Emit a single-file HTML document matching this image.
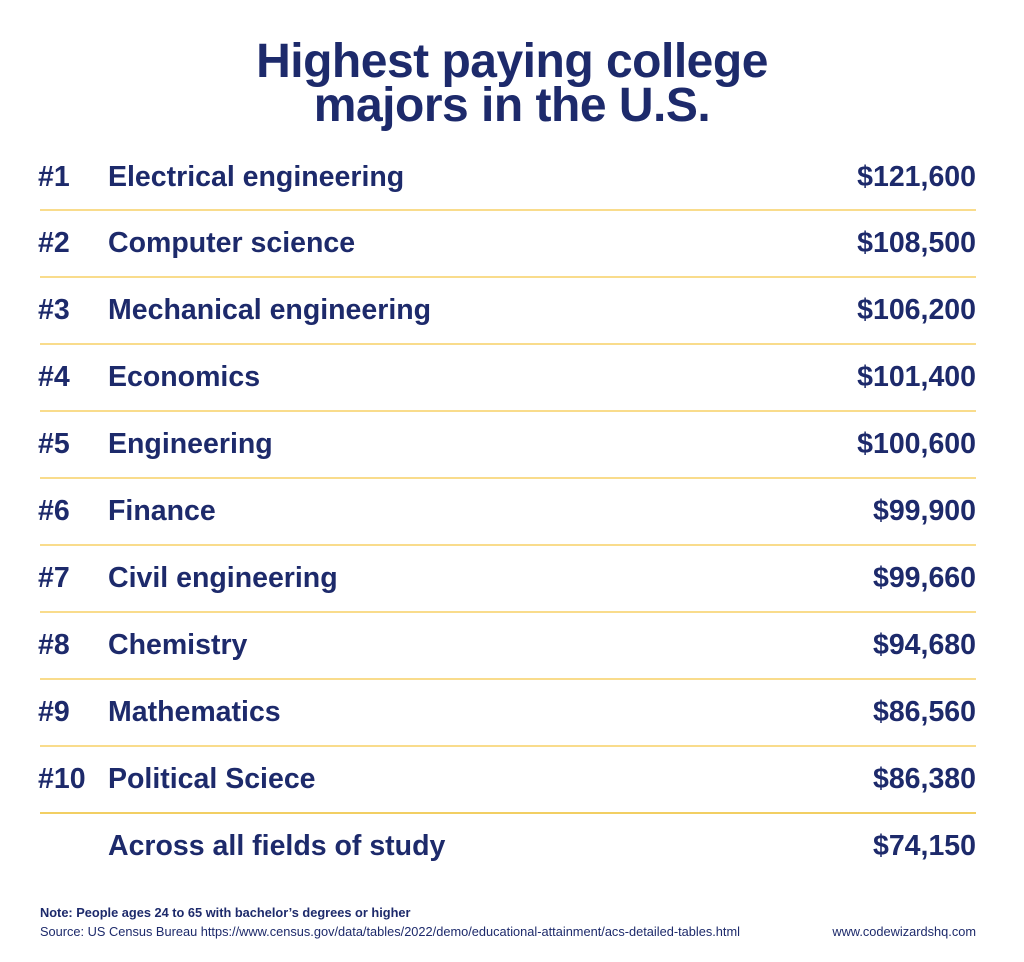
<!DOCTYPE html>
<html><head><meta charset="utf-8"><style>
body{margin:0;width:1024px;height:962px;background:#fff;position:relative;font-family:"Liberation Sans",Arial,sans-serif;color:#1d2a6b;overflow:hidden}
.t{position:absolute;left:0;width:1024px;text-align:center;font-weight:bold;font-size:48px;line-height:48px;letter-spacing:-0.5px}
.r{position:absolute;left:0;width:1024px;height:34px;font-weight:bold;font-size:28.5px;line-height:34px}
.r .n{position:absolute;left:38px}
.r .m{position:absolute;left:108px}
.r .v{position:absolute;right:48px}
.l{position:absolute;left:40px;width:936px;height:2px;background:#f9dc8c}
.s{position:absolute;font-size:12.8px;line-height:16px}
</style></head><body>
<div class="t" style="top:38px">Highest paying college</div>
<div class="t" style="top:82px">majors in the U.S.</div>

<div class="r" style="top:160px"><span class="n">#1</span><span class="m">Electrical engineering</span><span class="v">$121,600</span></div>
<div class="l" style="top:209px"></div>
<div class="r" style="top:226px"><span class="n">#2</span><span class="m">Computer science</span><span class="v">$108,500</span></div>
<div class="l" style="top:276px"></div>
<div class="r" style="top:293px"><span class="n">#3</span><span class="m">Mechanical engineering</span><span class="v">$106,200</span></div>
<div class="l" style="top:343px"></div>
<div class="r" style="top:360px"><span class="n">#4</span><span class="m">Economics</span><span class="v">$101,400</span></div>
<div class="l" style="top:410px"></div>
<div class="r" style="top:427px"><span class="n">#5</span><span class="m">Engineering</span><span class="v">$100,600</span></div>
<div class="l" style="top:477px"></div>
<div class="r" style="top:494px"><span class="n">#6</span><span class="m">Finance</span><span class="v">$99,900</span></div>
<div class="l" style="top:544px"></div>
<div class="r" style="top:561px"><span class="n">#7</span><span class="m">Civil engineering</span><span class="v">$99,660</span></div>
<div class="l" style="top:611px"></div>
<div class="r" style="top:628px"><span class="n">#8</span><span class="m">Chemistry</span><span class="v">$94,680</span></div>
<div class="l" style="top:678px"></div>
<div class="r" style="top:695px"><span class="n">#9</span><span class="m">Mathematics</span><span class="v">$86,560</span></div>
<div class="l" style="top:745px"></div>
<div class="r" style="top:762px"><span class="n">#10</span><span class="m">Political Sciece</span><span class="v">$86,380</span></div>
<div class="l" style="top:812px;background:#f2cf63"></div>
<div class="r" style="top:829px"><span class="m">Across all fields of study</span><span class="v">$74,150</span></div>

<div class="s" style="left:40px;top:905px;font-weight:bold">Note: People ages 24 to 65 with bachelor’s degrees or higher</div>
<div class="s" style="left:40px;top:924px">Source: US Census Bureau https://www.census.gov/data/tables/2022/demo/educational-attainment/acs-detailed-tables.html</div>
<div class="s" style="right:48px;top:924px">www.codewizardshq.com</div>
</body></html>
